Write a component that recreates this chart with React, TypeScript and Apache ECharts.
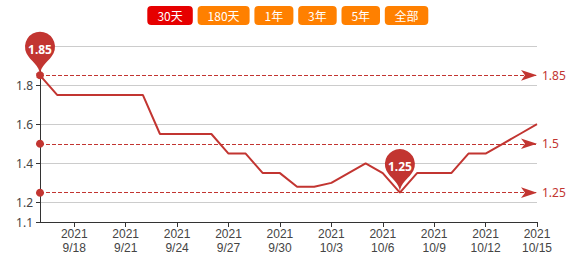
import React, { useEffect, useRef } from "react";
import * as echarts from "echarts";

// Daily dates shown on the category axis (30 days)
const dates: string[] = [
  "9/16", "9/17", "9/18", "9/19", "9/20", "9/21", "9/22", "9/23", "9/24", "9/25",
  "9/26", "9/27", "9/28", "9/29", "9/30", "10/1", "10/2", "10/3", "10/4", "10/5",
  "10/6", "10/7", "10/8", "10/9", "10/10", "10/11", "10/12", "10/13", "10/14", "10/15",
];
const year = "2021";

// Daily price values
const prices: number[] = [
  1.85, 1.75, 1.75, 1.75, 1.75, 1.75, 1.75, 1.55, 1.55, 1.55,
  1.55, 1.45, 1.45, 1.35, 1.35, 1.28, 1.28, 1.30, 1.35, 1.40,
  1.35, 1.25, 1.35, 1.35, 1.35, 1.45, 1.45, 1.50, 1.55, 1.60,
];

// Range switch buttons
const rangeButtons: string[] = ["30天", "180天", "1年", "3年", "5年", "全部"];
const activeButton = 0;

const RED = "#c23531";
const FONT = "'Noto Sans', 'Noto Sans CJK SC', sans-serif";
const AXIS_FONT = "'Liberation Sans', 'Noto Sans', sans-serif";

function buildButtons() {
  const widths = [45.5, 52, 39, 38.5, 38.5, 43.5];
  const gap = 4.8;
  let x = 147.3;
  const items: any[] = [];
  rangeButtons.forEach((label, i) => {
    const w = widths[i];
    items.push({
      type: "group",
      x,
      y: 6,
      children: [
        {
          type: "rect",
          shape: { x: 0, y: 0, width: w, height: 19, r: 4 },
          style: { fill: i === activeButton ? "#e60000" : "#ff8000" },
        },
        {
          type: "text",
          x: w / 2,
          y: 9.5,
          style: {
            text: label,
            fill: "#ffffff",
            font: "12px 'Noto Sans CJK SC', 'Noto Sans', sans-serif",
            align: "center",
            verticalAlign: "middle",
          },
        },
      ],
    });
    x += w + gap;
  });
  return items;
}

export default function App() {
  const ref = useRef<HTMLDivElement>(null);

  useEffect(() => {
    if (!ref.current) return;
    const chart = echarts.init(ref.current, undefined, { renderer: "svg" });
    const labelEvery = (idx: number) => idx % 3 === 2;
    chart.setOption({
      animation: false,
      backgroundColor: "#ffffff",
      textStyle: { fontFamily: FONT },
      graphic: buildButtons(),
      grid: { left: 40, right: 43, top: 46, bottom: 33, containLabel: false },
      xAxis: {
        type: "category",
        boundaryGap: false,
        data: dates.map((d) => `${year}\n${d}`),
        axisLine: { lineStyle: { color: "#333333" } },
        axisTick: { interval: labelEvery, length: 5, lineStyle: { color: "#333333" } },
        axisLabel: {
          interval: labelEvery,
          color: "#444444",
          fontSize: 12,
          lineHeight: 14,
          margin: 5,
          fontFamily: AXIS_FONT,
        },
        splitLine: { show: false },
      },
      yAxis: {
        type: "value",
        min: 1.1,
        max: 2.0,
        axisLine: { show: true, lineStyle: { color: "#333333" } },
        axisTick: { show: true, length: 4, lineStyle: { color: "#333333" } },
        axisLabel: {
          color: "#444444",
          fontSize: 12,
          margin: 7,
          showMaxLabel: false,
          fontFamily: FONT,
        },
        splitLine: { lineStyle: { color: "#cccccc" } },
      },
      series: [
        {
          type: "line",
          data: prices,
          showSymbol: false,
          symbol: "none",
          lineStyle: { color: RED, width: 2 },
          itemStyle: { color: RED },
          markPoint: {
            symbol: "pin",
            symbolSize: 50,
            itemStyle: { color: RED },
            label: { color: "#ffffff", fontSize: 12, fontWeight: "bold", fontFamily: FONT },
            data: [
              { type: "max", name: "max" },
              { type: "min", name: "min" },
            ],
          },
          markLine: {
            symbol: ["circle", "arrow"],
            symbolSize: [8, 16],
            precision: 2,
            lineStyle: { type: "dashed", color: RED, width: 1 },
            label: { position: "end", color: RED, fontSize: 12, fontFamily: FONT },
            emphasis: { disabled: true },
            data: [{ type: "max" }, { type: "average" }, { type: "min" }],
          },
        },
      ],
    });
    return () => chart.dispose();
  }, []);

  return (
    <div
      ref={ref}
      style={{ position: "fixed", left: 0, top: 0, width: 580, height: 255 }}
    />
  );
}
